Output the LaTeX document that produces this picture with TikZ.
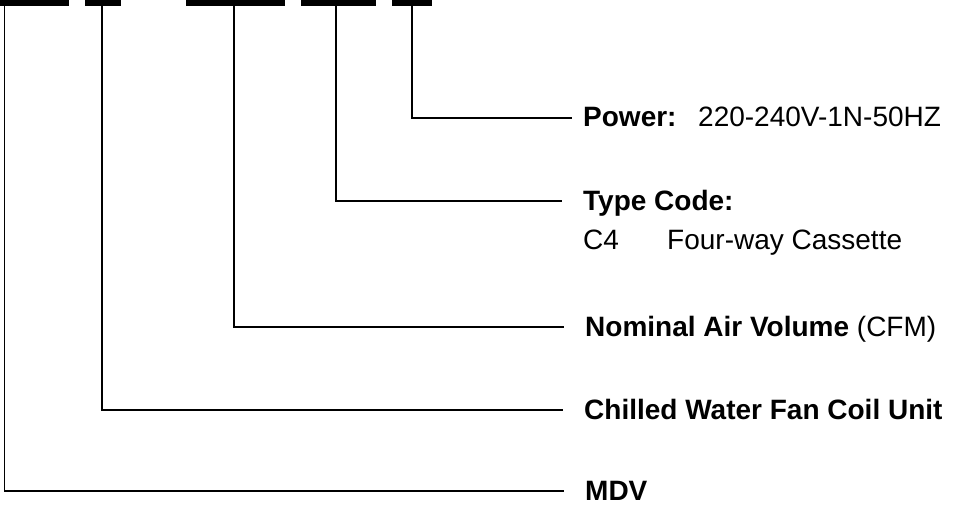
\documentclass[tikz,border=0pt]{standalone}
\usepackage{fontspec}
\setmainfont{Liberation Sans}
\begin{document}
\begin{tikzpicture}[x=1pt, y=-1pt,
  bar/.style={fill=black, draw=none, inner sep=0pt, minimum height=6pt, anchor=north west},
  lead/.style={line width=1.6pt, shorten >=21pt},
  codetext/.style={anchor=base west, inner sep=0pt, text height=18pt, text depth=0pt, font=\fontsize{28}{32}\selectfont}]
\useasboundingbox (0,0) rectangle (953,508);
% code bars (cut at the top edge)
\node [bar, minimum width=69pt](bar1) at (0,0) {};
\node [bar, minimum width=36pt](bar2) at (85,0) {};
\node [bar, minimum width=99pt](bar3) at (186,0) {};
\node [bar, minimum width=75pt](bar4) at (301,0) {};
\node [bar, minimum width=40pt](bar5) at (392,0) {};
\coordinate (t1) at (4.5,6);
\coordinate (t2) at (102,6);
\coordinate (t3) at (234,6);
\coordinate (t4) at (336,6);
\coordinate (t5) at (412,6);
% texts
\node [codetext](pw) at (583,127) {\textbf{Power:}};
\node [codetext](pwv) at (698,127) {220-240V-1N-50HZ};
\node [codetext](tc) at (583,210) {\textbf{Type Code:}};
\node [codetext](c4) at (583,249) {C4};
\node [codetext](c4v) at (667,249) {Four-way Cassette};
\node [codetext](nav) at (585,336) {\textbf{Nominal Air Volume} (CFM)};
\node [codetext](cw) at (584,419) {\textbf{Chilled Water Fan Coil Unit}};
\node [codetext](mdv) at (585,500) {\textbf{MDV}};
\path [lead]
  (t5) edge [shorten >=11pt, to path={|- (\tikztotarget)}] (pw.west)
  (t4) edge [to path={|- (\tikztotarget)}] (tc.west)
  (t3) edge [to path={|- (\tikztotarget)}] (nav.west)
  (t2) edge [to path={|- (\tikztotarget)}] (cw.west)
  (t1) edge [to path={|- (\tikztotarget)}] (mdv.west)
  ;
\end{tikzpicture}
\end{document}
